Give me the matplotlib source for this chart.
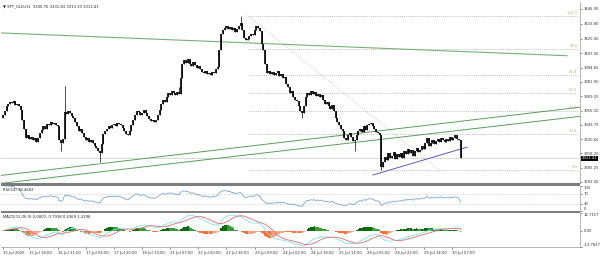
import numpy as np
import pandas as pd
import matplotlib
matplotlib.use("Agg")
import matplotlib.pyplot as plt
from matplotlib.patches import Rectangle

# H1 closes, 15 Jul 2025 -> 30 Jul 2025 12:00
closes = [
    3352, 3356, 3360, 3362, 3364, 3363, 3365, 3361, 3362, 3360, 3357,
    3348, 3340, 3332, 3334, 3331, 3333, 3330, 3332, 3328, 3332, 3336, 3339,
    3342, 3340, 3344, 3343, 3346, 3344, 3345, 3343, 3342,
    3330, 3327, 3331,
    3355, 3353, 3356, 3354, 3351, 3350,
    3346, 3342, 3338, 3340, 3336, 3333, 3330, 3332, 3328, 3330, 3327, 3325,
    3323, 3320, 3318, 3326, 3335,
    3338, 3340, 3342, 3341, 3343, 3344, 3342, 3345, 3344, 3343, 3341,
    3338, 3335, 3334,
    3338, 3343, 3348, 3352, 3356, 3355, 3352, 3354, 3357,
    3354, 3351, 3349, 3347, 3348, 3346, 3348,
    3352, 3357, 3362, 3366, 3364,
    3368, 3372, 3370, 3374, 3372, 3370, 3373, 3371,
    3385, 3398, 3401,
    3399, 3402, 3398, 3396, 3400, 3397, 3394, 3396, 3393,
    3391, 3390, 3392, 3389, 3390, 3388, 3391, 3390, 3393, 3395,
    3410, 3425,
    3428, 3430, 3432, 3429, 3431, 3428, 3430, 3426, 3429, 3432,
    3434, 3428, 3421, 3419, 3420, 3423,
    3425, 3424, 3428, 3432, 3430, 3427,
    3416, 3410, 3398, 3390,
    3392, 3389, 3391, 3388, 3390, 3392, 3387, 3389, 3385, 3386,
    3380, 3377, 3372, 3374, 3368, 3366,
    3365, 3360, 3356, 3354,
    3360, 3368, 3372, 3370, 3374, 3371, 3373, 3369, 3371, 3368, 3370, 3366,
    3362, 3364, 3360, 3358, 3361, 3356,
    3350, 3346, 3343, 3340, 3338, 3332, 3330,
    3334, 3336, 3333, 3329,
    3330,
    3334, 3338, 3340, 3337, 3342, 3339, 3343, 3344, 3345, 3342, 3340, 3337, 3336, 3334,
    3306,
    3310, 3315, 3312, 3318, 3314, 3316, 3319, 3313, 3317, 3315,
    3318, 3314, 3320, 3317, 3322, 3318, 3321, 3316, 3320, 3323, 3319,
    3321, 3325, 3322, 3327, 3332, 3325,
    3327, 3330, 3326, 3329, 3331, 3328, 3332, 3330,
    3328, 3331, 3329, 3333, 3330, 3332, 3334,
    3331, 3330, 3313.41,
]
first_open = 3350.0
spike_highs = {35: 3378, 100: 3377, 135: 3441}
spike_lows = {33: 3320, 55: 3310, 170: 3350, 200: 3320, 215: 3303}

header = "\u25BC SPT_GLD,H1  3330.76 3331.83 3313.33 3313.41"
price_ticks = [3446.95, 3433.80, 3420.40, 3407.45, 3394.65, 3381.90, 3369.20,
               3356.10, 3343.75, 3330.60, 3318.20, 3305.25, 3292.45]
last_price = 3313.41

time_pos = [0, 15, 31, 47, 63, 79, 95, 111, 127, 143, 159, 175, 191, 207, 223, 239, 255]
time_labels = ["15 Jul 2025", "15 Jul 18:00", "16 Jul 11:00", "17 Jul 04:00",
               "17 Jul 20:00", "18 Jul 13:00", "21 Jul 07:00", "22 Jul 00:00",
               "22 Jul 16:00", "23 Jul 09:00", "24 Jul 02:00", "24 Jul 18:00",
               "25 Jul 11:00", "28 Jul 05:00", "28 Jul 22:00", "29 Jul 14:00",
               "30 Jul 07:00"]

# fibonacci retracement object
fib_high, fib_low = 3441.0, 3303.0
fib_bars = [139, 248]
fib_levels = [0.0, 23.6, 38.2, 50.0, 61.8, 78.6, 100.0]

# trend line objects (bar index, price)
down_line = ([-1.7, 320.5], [3425.6, 3405.2])
chan_upper = ([-2, 330], [3298.1, 3359.6])
chan_lower = ([-2, 330], [3291.0, 3351.4])
support = ([210.2, 263.6], [3298.65, 3323.5])

rsi_text = "RSI(14) 38.4602"
macd_text = "MACD(12,26,9) 0.0000 -0.7938 0.4369 1.2296"
macd_ticks = [14.7157, 0.0, -13.7827]

# ---------------------------------------------------------------
c = np.array(closes, dtype=float)
o = np.concatenate([[first_open], c[:-1]])
idx = np.arange(len(c))
hi = np.maximum(o, c)
lo = np.minimum(o, c)
wick_hi = hi.copy()
wick_lo = lo.copy()
for k, v in spike_highs.items():
    wick_hi[k] = max(wick_hi[k], v)
for k, v in spike_lows.items():
    wick_lo[k] = min(wick_lo[k], v)

s = pd.Series(c)
d = s.diff()
up = d.clip(lower=0).ewm(alpha=1 / 14, adjust=False).mean()
dn = (-d.clip(upper=0)).ewm(alpha=1 / 14, adjust=False).mean()
rsi = 100 - 100 / (1 + up / dn)
macd = s.ewm(span=12, adjust=False).mean() - s.ewm(span=26, adjust=False).mean()
signal = macd.rolling(9, min_periods=1).mean()
hist = (macd - signal).values

W, H = 600, 257
fs = 2.7
def box(l, t, r, b):
    return [l / W, 1 - b / H, (r - l) / W, (b - t) / H]

fig = plt.figure(figsize=(6, 2.57), dpi=100)
fig.patch.set_facecolor("white")
ax = fig.add_axes(box(1, 2, 580, 183))
ax_r = fig.add_axes(box(1, 186, 580, 211), sharex=ax)
ax_m = fig.add_axes(box(1, 213, 580, 247), sharex=ax)

xmin, xmax = -1.14, 327.9
for a in (ax, ax_r, ax_m):
    a.set_xlim(xmin, xmax)
    a.yaxis.tick_right()
    a.tick_params(axis="y", labelsize=fs, length=1.5, width=0.4, pad=1, colors="#333333")
    a.tick_params(axis="x", bottom=False, labelbottom=False)
    for sp in a.spines.values():
        sp.set_color("#999999")
        sp.set_linewidth(0.5)
    a.spines["top"].set_visible(False)
    a.spines["left"].set_visible(False)

# --- price pane
ax.set_ylim(3291.5, 3453.2)
ax.set_yticks(price_ticks)
ax.set_yticklabels([f"{v:.2f}" for v in price_ticks])

ax.axhline(last_price, color="#c8c8c8", lw=0.5, zorder=1)
for lv in fib_levels:
    p = fib_low + (fib_high - fib_low) * lv / 100
    ax.plot([fib_bars[0], 326.5], [p, p], color="#a0a0a0", lw=0.5,
            ls=(0, (1.2, 1.6)), zorder=1)
    ax.text(326.5, p + 0.8, f"{lv:.1f}", color="#b5b57a", fontsize=fs,
            ha="right", va="bottom", zorder=3)
ax.plot(fib_bars, [fib_high, fib_low], color="#b8b8b8", lw=0.5,
        ls=(0, (1.2, 1.6)), zorder=1)

ax.plot(*down_line, color="#76b076", lw=0.8, zorder=2)
ax.plot(*chan_upper, color="#5a9e5a", lw=0.7, zorder=2)
ax.plot(*chan_lower, color="#5a9e5a", lw=0.7, zorder=2)
ax.plot(*support, color="#5b5bc8", lw=0.7, zorder=2)

ax.vlines(idx, wick_lo, wick_hi, color="black", lw=0.5, zorder=3)
ax.vlines(idx, lo, hi, color="black", lw=1.2, zorder=4)

ax.text(0.004, 0.985, header, transform=ax.transAxes, fontsize=fs,
        va="top", ha="left", color="#222222")
ax.text(1.003, last_price, f"{last_price:.2f}", transform=ax.get_yaxis_transform(),
        fontsize=fs, color="white", ha="left", va="center", clip_on=False, zorder=6,
        bbox=dict(boxstyle="square,pad=0.25", fc="black", ec="black", lw=0))

# --- RSI pane
ax_r.set_ylim(0, 100)
ax_r.set_yticks([100, 70, 30, 0])
ax_r.set_yticklabels(["100", "70", "30", "0"])
rl = ax_r.get_yticklabels()
rl[0].set_va("top")
rl[-1].set_va("bottom")
for lv in (70, 30):
    ax_r.axhline(lv, color="#b0b0b0", lw=0.4, ls=(0, (1.2, 1.6)))
ax_r.plot(idx, rsi, color="#78a8dc", lw=0.6)
ax_r.text(0.004, 0.93, rsi_text, transform=ax_r.transAxes, fontsize=fs,
          va="top", ha="left", color="#222222")

# --- MACD pane
ax_m.set_ylim(macd_ticks[2], macd_ticks[0])
ax_m.set_yticks(macd_ticks)
ax_m.set_yticklabels(["14.7157", "0.00", "-13.7827"])
ml = ax_m.get_yticklabels()
ml[0].set_va("top")
ml[-1].set_va("bottom")
dh = np.diff(np.concatenate([[0], hist]))
cols = np.where(hist >= 0,
                np.where(dh >= 0, "#0b6b0b", "#3a9a3a"),
                np.where(dh <= 0, "#ff6f3c", "#ffa585"))
ax_m.bar(idx, hist, width=1.0, color=cols, lw=0, zorder=2)
ax_m.plot(idx, macd, color="#7fe3ec", lw=0.6, zorder=3)
ax_m.plot(idx, signal, color="#e07070", lw=0.6, zorder=3)
ax_m.text(0.004, 0.95, macd_text, transform=ax_m.transAxes, fontsize=fs,
          va="top", ha="left", color="#222222")
ax_m.spines["bottom"].set_visible(True)
ax_m.set_xticks(time_pos)
ax_m.tick_params(axis="x", bottom=True, labelbottom=True, length=1.5, width=0.4,
                 labelsize=fs, pad=1.5, colors="#333333")
ax_m.set_xticklabels(time_labels, ha="left")

# pane separators
for t, b in ((183, 185.5), (211, 213)):
    fig.add_artist(Rectangle((1 / W, 1 - b / H), 579 / W, (b - t) / H,
                             transform=fig.transFigure, color="#7d7d7d", lw=0))

fig.savefig("out.png", dpi=100, facecolor="white")
